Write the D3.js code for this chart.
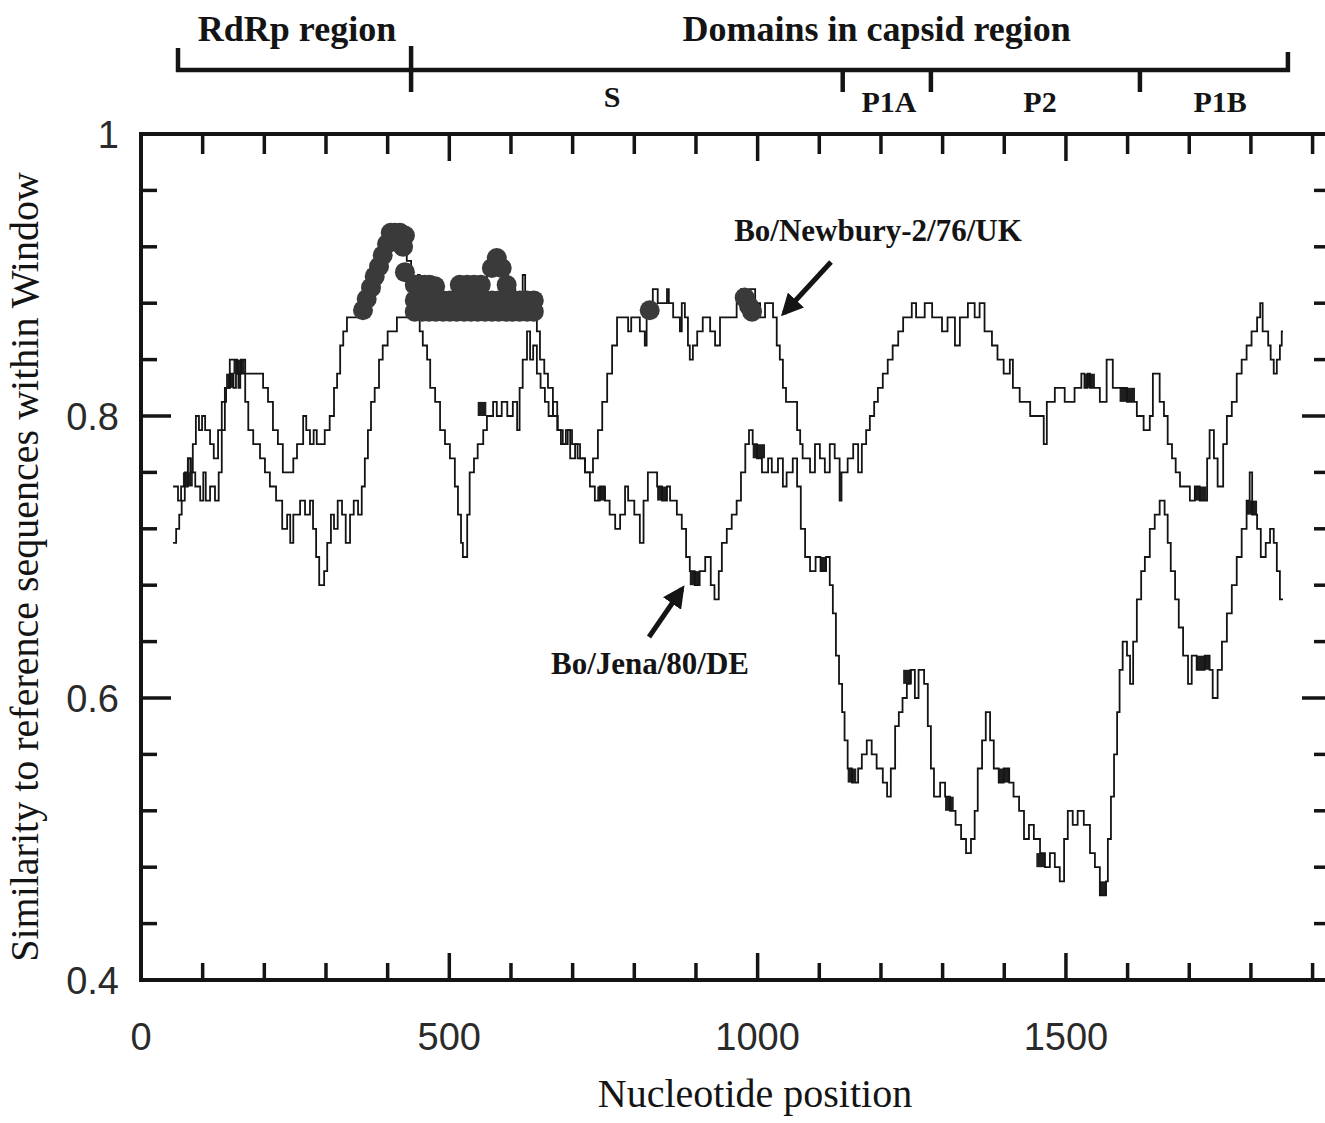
<!DOCTYPE html>
<html>
<head>
<meta charset="utf-8">
<script src="https://cdn.jsdelivr.net/npm/d3@7"></script>
<style>
  body { margin: 0; background: #fff; }
  svg { display: block; }
</style>
</head>
<body>
<div id="chart"></div>
<script>
var W = 1325, H = 1123;

// step points [nucleotide, similarity]
var newbury = [
  [52,0.75],[60,0.74],[65,0.75],[71,0.76],[76,0.77],[80,0.76],[84,0.78],[89,0.80],[94,0.79],[99,0.80],
  [104,0.79],[112,0.78],[118,0.77],[125,0.79],[131,0.81],[138,0.82],[144,0.83],[150,0.82],[154,0.83],[158,0.82],
  [161,0.83],[198,0.82],[206,0.81],[214,0.79],[222,0.78],[230,0.76],[247,0.77],[253,0.78],[263,0.80],[268,0.79],
  [274,0.78],[280,0.79],[285,0.78],[298,0.79],[306,0.80],[313,0.82],[318,0.83],[323,0.85],[328,0.86],[334,0.87],
  [360,0.88],[368,0.89],[376,0.90],[384,0.91],[392,0.92],[400,0.93],[431,0.91],[438,0.89],[449,0.90],[452,0.89],
  [480,0.88],[512,0.89],[561,0.90],[571,0.91],[587,0.90],[595,0.89],[607,0.88],[619,0.90],[623,0.88],[642,0.86],
  [647,0.84],[654,0.83],[660,0.82],[668,0.80],[676,0.79],[684,0.78],[692,0.79],[699,0.78],[708,0.77],[720,0.76],
  [733,0.77],[741,0.79],[748,0.81],[756,0.83],[764,0.85],[772,0.87],[790,0.86],[795,0.87],[809,0.86],[817,0.85],
  [820,0.87],[830,0.89],[838,0.88],[853,0.89],[856,0.88],[863,0.87],[874,0.86],[877,0.88],[882,0.87],[887,0.85],
  [890,0.84],[895,0.85],[902,0.86],[911,0.87],[923,0.86],[931,0.85],[939,0.87],[966,0.88],[973,0.89],[979,0.88],
  [987,0.89],[996,0.88],[1004,0.87],[1012,0.88],[1025,0.87],[1031,0.85],[1036,0.84],[1041,0.82],[1046,0.81],[1064,0.79],
  [1069,0.78],[1073,0.77],[1085,0.76],[1093,0.78],[1101,0.77],[1109,0.76],[1117,0.78],[1125,0.77],[1133,0.74],[1136,0.76],
  [1146,0.77],[1155,0.78],[1163,0.76],[1169,0.78],[1176,0.79],[1182,0.80],[1189,0.81],[1195,0.82],[1203,0.83],[1211,0.84],
  [1219,0.85],[1228,0.86],[1236,0.87],[1250,0.88],[1257,0.87],[1271,0.88],[1283,0.87],[1299,0.86],[1308,0.87],[1320,0.85],
  [1328,0.87],[1341,0.88],[1352,0.87],[1360,0.88],[1368,0.86],[1380,0.85],[1389,0.84],[1399,0.83],[1409,0.84],[1414,0.82],
  [1425,0.81],[1442,0.80],[1464,0.78],[1469,0.81],[1482,0.82],[1498,0.81],[1514,0.82],[1525,0.83],[1530,0.82],[1535,0.83],
  [1539,0.82],[1555,0.81],[1566,0.84],[1576,0.82],[1587,0.82],[1599,0.81],[1615,0.80],[1626,0.79],[1636,0.80],[1641,0.83],
  [1652,0.81],[1659,0.80],[1665,0.78],[1672,0.77],[1678,0.76],[1685,0.75],[1701,0.74],[1709,0.75],[1717,0.74],[1729,0.77],
  [1733,0.79],[1740,0.77],[1746,0.75],[1755,0.78],[1761,0.80],[1769,0.81],[1777,0.83],[1785,0.84],[1793,0.85],[1801,0.86],
  [1810,0.87],[1815,0.88],[1819,0.86],[1828,0.85],[1832,0.84],[1837,0.83],[1842,0.84],[1847,0.85],[1850,0.86],[1852,0.86]
];

var jena = [
  [52,0.71],[57,0.72],[62,0.73],[66,0.74],[71,0.75],[76,0.77],[81,0.76],[88,0.75],[96,0.74],[101,0.76],
  [105,0.74],[112,0.75],[120,0.74],[126,0.76],[131,0.79],[136,0.82],[144,0.84],[156,0.83],[162,0.84],[169,0.81],
  [174,0.79],[182,0.78],[193,0.77],[201,0.76],[209,0.75],[219,0.74],[229,0.72],[237,0.73],[242,0.71],[247,0.73],
  [258,0.74],[266,0.73],[274,0.74],[279,0.72],[284,0.70],[289,0.68],[297,0.69],[302,0.71],[308,0.73],[313,0.72],
  [319,0.74],[326,0.73],[332,0.71],[339,0.73],[345,0.74],[352,0.73],[358,0.75],[363,0.77],[368,0.79],[373,0.81],
  [379,0.82],[386,0.84],[392,0.85],[400,0.86],[415,0.87],[452,0.86],[457,0.85],[464,0.84],[469,0.82],[477,0.81],
  [485,0.79],[493,0.78],[501,0.77],[509,0.75],[514,0.73],[519,0.71],[522,0.70],[529,0.73],[533,0.76],[540,0.77],
  [546,0.78],[555,0.79],[561,0.80],[571,0.81],[577,0.80],[585,0.81],[594,0.80],[603,0.81],[610,0.79],[614,0.82],
  [619,0.84],[626,0.86],[631,0.84],[636,0.85],[642,0.83],[648,0.82],[655,0.81],[661,0.80],[668,0.81],[675,0.79],
  [681,0.78],[689,0.79],[696,0.77],[704,0.78],[712,0.77],[720,0.76],[728,0.75],[736,0.74],[744,0.75],[752,0.74],
  [760,0.73],[769,0.72],[777,0.73],[785,0.75],[790,0.74],[800,0.73],[809,0.71],[815,0.74],[822,0.76],[837,0.75],
  [845,0.74],[853,0.75],[858,0.74],[869,0.73],[877,0.72],[884,0.70],[890,0.69],[898,0.68],[906,0.69],[915,0.70],
  [924,0.68],[930,0.67],[937,0.69],[942,0.71],[950,0.72],[958,0.73],[966,0.74],[973,0.76],[980,0.78],[986,0.79],
  [992,0.78],[999,0.77],[1007,0.76],[1017,0.77],[1023,0.76],[1033,0.77],[1041,0.75],[1047,0.76],[1057,0.77],[1064,0.75],
  [1070,0.72],[1077,0.70],[1085,0.69],[1094,0.70],[1102,0.69],[1111,0.70],[1117,0.68],[1122,0.66],[1127,0.63],[1132,0.61],
  [1137,0.59],[1141,0.57],[1146,0.55],[1153,0.54],[1163,0.55],[1169,0.56],[1177,0.57],[1185,0.56],[1193,0.55],[1203,0.54],
  [1210,0.53],[1216,0.55],[1223,0.58],[1229,0.59],[1235,0.60],[1242,0.61],[1248,0.62],[1255,0.60],[1261,0.62],[1270,0.61],
  [1276,0.58],[1281,0.55],[1286,0.53],[1296,0.54],[1304,0.53],[1312,0.52],[1321,0.51],[1330,0.50],[1338,0.49],[1346,0.50],
  [1352,0.52],[1357,0.55],[1364,0.57],[1370,0.59],[1377,0.57],[1383,0.55],[1391,0.54],[1399,0.55],[1408,0.54],[1415,0.53],
  [1424,0.52],[1432,0.50],[1440,0.51],[1448,0.50],[1458,0.49],[1466,0.48],[1474,0.49],[1482,0.48],[1490,0.47],[1497,0.50],
  [1503,0.52],[1511,0.51],[1519,0.52],[1529,0.51],[1539,0.49],[1547,0.48],[1555,0.46],[1565,0.47],[1568,0.50],[1573,0.53],
  [1578,0.56],[1583,0.59],[1587,0.62],[1592,0.64],[1599,0.63],[1604,0.61],[1609,0.64],[1615,0.67],[1622,0.69],[1628,0.70],
  [1636,0.72],[1644,0.73],[1652,0.74],[1660,0.73],[1665,0.71],[1670,0.69],[1677,0.67],[1683,0.65],[1690,0.63],[1698,0.61],
  [1704,0.63],[1712,0.62],[1725,0.63],[1733,0.62],[1738,0.60],[1746,0.62],[1753,0.64],[1761,0.66],[1769,0.68],[1777,0.70],
  [1785,0.72],[1793,0.74],[1798,0.76],[1802,0.73],[1810,0.72],[1816,0.70],[1824,0.71],[1831,0.72],[1837,0.71],[1842,0.69],
  [1847,0.67],[1852,0.67]
];

// stretches where a curve flickers between two levels (drawn as solid blocks)
// [start nt, end nt, low, high]
var flicker = [
  [68,84,0.75,0.76],[150,168,0.83,0.84],[138,150,0.82,0.83],[740,754,0.74,0.75],[837,853,0.74,0.75],
  [890,906,0.68,0.69],[992,1012,0.77,0.78],[1146,1160,0.54,0.55],[1236,1250,0.61,0.62],[1391,1408,0.54,0.55],
  [1555,1566,0.46,0.47],[1712,1733,0.62,0.63],[1793,1810,0.73,0.74],[1531,1547,0.82,0.83],[1587,1612,0.81,0.82],
  [1709,1728,0.74,0.75],[546,560,0.80,0.81],[1452,1466,0.48,0.49],[1304,1318,0.52,0.53],[1102,1112,0.69,0.70]
];

// highlighted windows (filled dots) on the Newbury curve
var dots = [
  // rising leg and peak
  [360,0.875],[366,0.883],[373,0.891],[379,0.899],[386,0.906],[392,0.914],[399,0.922],[405,0.93],
  [412,0.93],[420,0.93],[428,0.928],[425,0.92],[428,0.902],
  // upper row of the plateau
  [444,0.893],[452,0.893],[460,0.893],[468,0.893],[477,0.892],
  [517,0.893],[529,0.893],[540,0.893],[551,0.893],[569,0.905],[577,0.912],[585,0.905],[593,0.893],
  // plateau band
  [444,0.882],[456,0.882],[467,0.882],[478,0.882],[490,0.882],[501,0.882],[512,0.882],[524,0.882],[535,0.882],
  [546,0.882],[558,0.882],[569,0.882],[580,0.882],[592,0.882],[603,0.882],[614,0.882],[626,0.882],[637,0.882],
  [444,0.874],[456,0.874],[467,0.874],[478,0.874],[490,0.874],[501,0.874],[512,0.874],[524,0.874],[535,0.874],
  [546,0.874],[558,0.874],[569,0.874],[580,0.874],[592,0.874],[603,0.874],[614,0.874],[626,0.874],[637,0.874],
  // isolated hits further right
  [825,0.875],[979,0.884],[986,0.878],[991,0.874]
];

var xLabels = [0, 500, 1000, 1500];
var yLabels = [0.4, 0.6, 0.8, 1];

var regionNames = ["RdRp region", "Domains in capsid region"];
var regionEdges = [60, 438, 1860];
var regionLabelAt = [253, 1193];

var domainNames = ["S", "P1A", "P2", "P1B"];
var domainEdges = [1138, 1281, 1620];
var domainLabelAt = [764, 1213, 1458, 1750];

var svg = d3.select("#chart").append("svg")
  .attr("width", W).attr("height", H)
  .style("background", "#fff");

var x = d3.scaleLinear().domain([0, 1925]).range([141, 1328]);
var y = d3.scaleLinear().domain([0.4, 1]).range([980, 134]);

var ink = "#141414";

// frame
svg.append("rect")
  .attr("x", x(0)).attr("y", y(1))
  .attr("width", x(1925) - x(0)).attr("height", y(0.4) - y(1))
  .attr("fill", "none").attr("stroke", ink).attr("stroke-width", 4);

// inward ticks on all four sides
var xt = d3.range(100, 1901, 100);
var yt = d3.range(0.44, 0.999, 0.04);
function isMajorY(d) { return Math.abs(d - 0.8) < 0.01 || Math.abs(d - 0.6) < 0.01; }

var ticks = svg.append("g").attr("stroke", ink).attr("stroke-width", 3.5);
ticks.selectAll(".xb").data(xt).join("line")
  .attr("x1", d => x(d)).attr("x2", d => x(d))
  .attr("y1", y(0.4)).attr("y2", d => y(0.4) - (d % 500 === 0 ? 27 : 17));
ticks.selectAll(".xt").data(xt).join("line")
  .attr("x1", d => x(d)).attr("x2", d => x(d))
  .attr("y1", y(1)).attr("y2", d => y(1) + (d % 500 === 0 ? 27 : 20));
ticks.selectAll(".yl").data(yt).join("line")
  .attr("y1", d => y(d)).attr("y2", d => y(d))
  .attr("x1", x(0)).attr("x2", d => x(0) + (isMajorY(d) ? 30 : 16));
ticks.selectAll(".yr").data(yt).join("line")
  .attr("y1", d => y(d)).attr("y2", d => y(d))
  .attr("x1", x(1925)).attr("x2", d => x(1925) - (isMajorY(d) ? 26 : 14));

// tick labels
svg.append("g").selectAll("text").data(xLabels).join("text")
  .attr("x", d => x(d)).attr("y", 1050)
  .attr("text-anchor", "middle")
  .attr("font-family", "Liberation Sans, Arial, sans-serif")
  .attr("font-size", 38).attr("fill", "#2a2a2a")
  .text(d => d);

svg.append("g").selectAll("text").data(yLabels).join("text")
  .attr("x", 119).attr("y", d => y(d) + 14)
  .attr("text-anchor", "end")
  .attr("font-family", "Liberation Sans, Arial, sans-serif")
  .attr("font-size", 38).attr("fill", "#2a2a2a")
  .text(d => d);

// axis titles
svg.append("text")
  .attr("x", 755).attr("y", 1107)
  .attr("text-anchor", "middle")
  .attr("font-family", "Liberation Serif, Times New Roman, serif")
  .attr("font-size", 40).attr("fill", ink)
  .text("Nucleotide position");

svg.append("text")
  .attr("transform", "translate(38,567) rotate(-90)")
  .attr("text-anchor", "middle")
  .attr("font-family", "Liberation Serif, Times New Roman, serif")
  .attr("font-size", 40).attr("fill", ink)
  .text("Similarity to reference sequences within Window");

// genome region brackets above the plot
var bracketY = 70;
var br = svg.append("g").attr("stroke", ink).attr("stroke-width", 4.5).attr("fill", "none");
br.append("path")
  .attr("d", "M" + x(regionEdges[0]) + "," + (bracketY - 22) + "V" + bracketY + "H" + x(regionEdges[2]) + "V" + (bracketY - 18));
br.append("line")
  .attr("x1", x(regionEdges[1])).attr("x2", x(regionEdges[1]))
  .attr("y1", bracketY - 24).attr("y2", bracketY + 22);
br.selectAll(".dom").data(domainEdges).join("line")
  .attr("x1", d => x(d)).attr("x2", d => x(d))
  .attr("y1", bracketY).attr("y2", bracketY + 22);

svg.append("g").selectAll("text").data(regionNames).join("text")
  .attr("x", (d, i) => x(regionLabelAt[i])).attr("y", 41)
  .attr("text-anchor", "middle")
  .attr("font-family", "Liberation Serif, Times New Roman, serif")
  .attr("font-weight", "bold").attr("font-size", 36).attr("fill", ink)
  .text(d => d);

svg.append("g").selectAll("text").data(domainNames).join("text")
  .attr("x", (d, i) => x(domainLabelAt[i])).attr("y", (d, i) => i === 0 ? 107 : 112)
  .attr("text-anchor", "middle")
  .attr("font-family", "Liberation Serif, Times New Roman, serif")
  .attr("font-weight", "bold").attr("font-size", 30).attr("fill", ink)
  .text(d => d);

// curves
var line = d3.line()
  .x(d => x(d[0])).y(d => y(d[1]))
  .curve(d3.curveStepAfter);

svg.append("g").selectAll("rect").data(flicker).join("rect")
  .attr("x", d => x(d[0])).attr("width", d => x(d[1]) - x(d[0]))
  .attr("y", d => y(d[3])).attr("height", d => y(d[2]) - y(d[3]))
  .attr("fill", "#1e1e1e");

svg.append("path").datum(jena)
  .attr("d", line).attr("fill", "none")
  .attr("stroke", ink).attr("stroke-width", 1.8);

svg.append("path").datum(newbury)
  .attr("d", line).attr("fill", "none")
  .attr("stroke", ink).attr("stroke-width", 1.8);

svg.append("g").selectAll("circle").data(dots).join("circle")
  .attr("cx", d => x(d[0])).attr("cy", d => y(d[1]))
  .attr("r", 10).attr("fill", "#3a3a3a");

// annotations with arrows
svg.append("defs").append("marker")
  .attr("id", "head").attr("viewBox", "0 0 10 10")
  .attr("refX", 8).attr("refY", 5)
  .attr("markerWidth", 4.4).attr("markerHeight", 4.4)
  .attr("orient", "auto")
  .append("path").attr("d", "M0,0L10,5L0,10z").attr("fill", ink);

var notes = [
  { text: "Bo/Newbury-2/76/UK", tx: 878, ty: 241, from: [831, 262], to: [784, 313] },
  { text: "Bo/Jena/80/DE", tx: 650, ty: 674, from: [649, 637], to: [682, 589] }
];

svg.append("g").selectAll("line").data(notes).join("line")
  .attr("x1", d => d.from[0]).attr("y1", d => d.from[1])
  .attr("x2", d => d.to[0]).attr("y2", d => d.to[1])
  .attr("stroke", ink).attr("stroke-width", 5)
  .attr("marker-end", "url(#head)");

svg.append("g").selectAll("text").data(notes).join("text")
  .attr("x", d => d.tx).attr("y", d => d.ty)
  .attr("text-anchor", "middle")
  .attr("font-family", "Liberation Serif, Times New Roman, serif")
  .attr("font-weight", "bold").attr("font-size", 31).attr("fill", ink)
  .text(d => d.text);
</script>
</body>
</html>
